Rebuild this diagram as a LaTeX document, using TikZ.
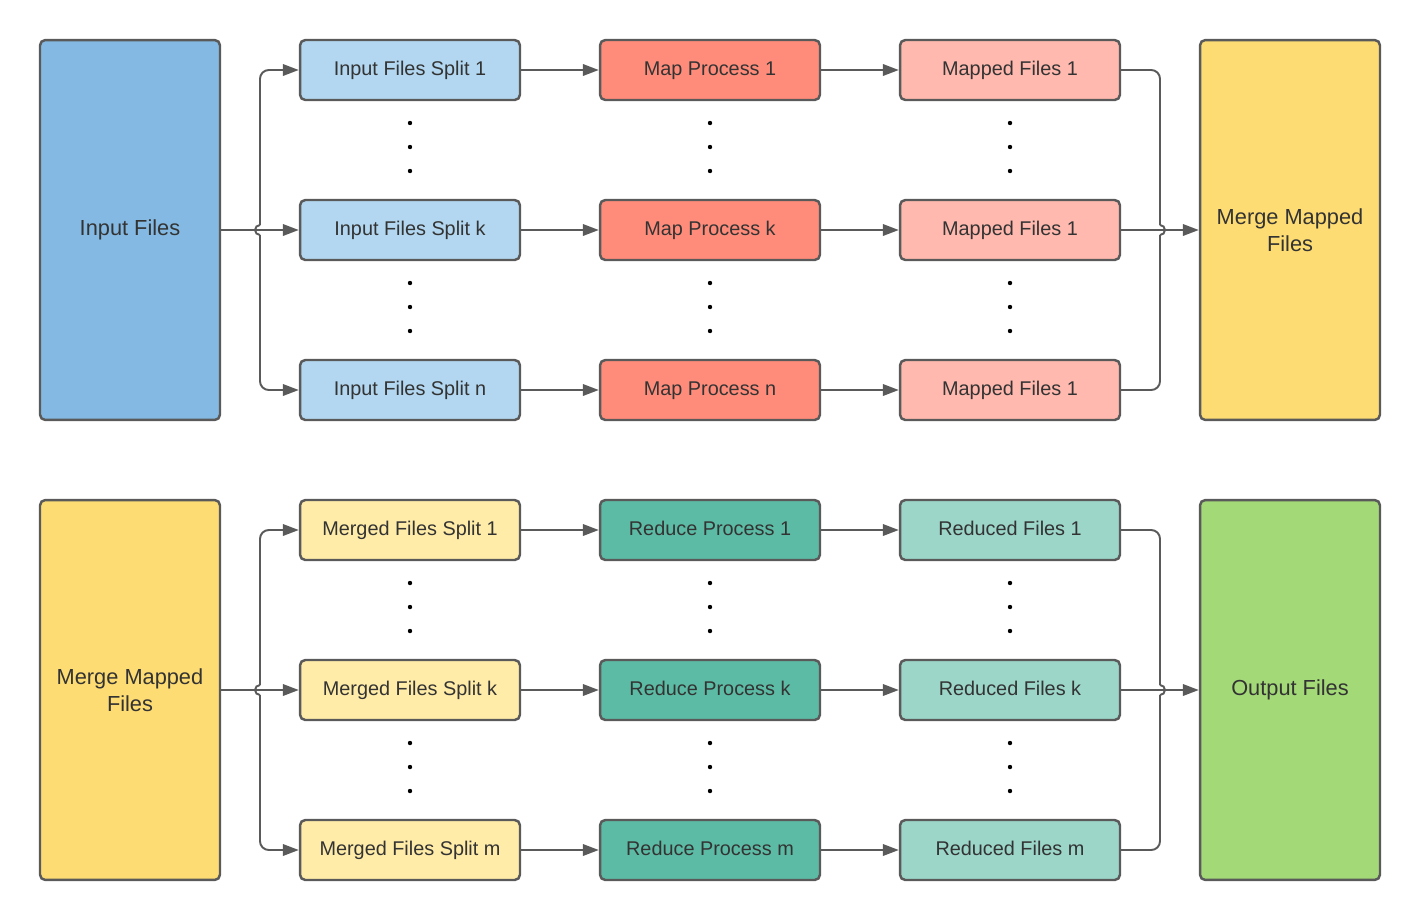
\documentclass[tikz,border=0pt]{standalone}
\usepackage{fontspec}
\setmainfont{Liberation Sans}
\usetikzlibrary{arrows.meta,calc}

\definecolor{edge}{HTML}{5A5A5A}
\definecolor{txt}{HTML}{333333}
\definecolor{inblue}{HTML}{83B9E3}
\definecolor{splitblue}{HTML}{B3D7F0}
\definecolor{mapred}{HTML}{FF8C7B}
\definecolor{mappedpink}{HTML}{FFB9AF}
\definecolor{mergeyel}{HTML}{FDDC73}
\definecolor{splityel}{HTML}{FFECA8}
\definecolor{redteal}{HTML}{5CBBA4}
\definecolor{fileteal}{HTML}{9BD6C9}
\definecolor{outgreen}{HTML}{A3D977}

\begin{document}
\begin{tikzpicture}[x=0.02cm, y=-0.02cm]
\tikzstyle{bigbox}=[draw=edge, line width=1.4pt, rounded corners=3pt,
  minimum width=3.6cm, minimum height=7.6cm, text=txt, align=center,
  font=\fontsize{12.4}{15.3}\selectfont]
\tikzstyle{smallbox}=[draw=edge, line width=1.4pt, rounded corners=3pt,
  minimum width=4.4cm, minimum height=1.2cm, text=txt,
  text height=1.5ex, text depth=0.4ex,
  font=\fontsize{11.3}{13}\selectfont]
\tikzstyle{conn}=[draw=edge, line width=1.1pt,
  -{Triangle[length=9pt,width=6.5pt]}]
\tikzstyle{hop}=[draw=edge, line width=1.1pt]
\useasboundingbox (0,0) rectangle (1420,920);

% map phase
\node[bigbox, fill=inblue] (in) at (130,230) {Input Files};
\node[smallbox, fill=splitblue] (s1) at (410,70) {Input Files Split 1};
\node[smallbox, fill=splitblue] (sk) at (410,230) {Input Files Split k};
\node[smallbox, fill=splitblue] (sn) at (410,390) {Input Files Split n};
\node[smallbox, fill=mapred] (p1) at (710,70) {Map Process 1};
\node[smallbox, fill=mapred] (pk) at (710,230) {Map Process k};
\node[smallbox, fill=mapred] (pn) at (710,390) {Map Process n};
\node[smallbox, fill=mappedpink] (m1) at (1010,70) {Mapped Files 1};
\node[smallbox, fill=mappedpink] (mk) at (1010,230) {Mapped Files 1};
\node[smallbox, fill=mappedpink] (mn) at (1010,390) {Mapped Files 1};
\node[bigbox, fill=mergeyel] (mg) at (1290,230) {Merge Mapped\\Files};

% reduce phase
\node[bigbox, fill=mergeyel] (rin) at (130,690) {Merge Mapped\\Files};
\node[smallbox, fill=splityel] (r1) at (410,530) {Merged Files Split 1};
\node[smallbox, fill=splityel] (rk) at (410,690) {Merged Files Split k};
\node[smallbox, fill=splityel] (rm) at (410,850) {Merged Files Split m};
\node[smallbox, fill=redteal] (q1) at (710,530) {Reduce Process 1};
\node[smallbox, fill=redteal] (qk) at (710,690) {Reduce Process k};
\node[smallbox, fill=redteal] (qm) at (710,850) {Reduce Process m};
\node[smallbox, fill=fileteal] (f1) at (1010,530) {Reduced Files 1};
\node[smallbox, fill=fileteal] (fk) at (1010,690) {Reduced Files k};
\node[smallbox, fill=fileteal] (fm) at (1010,850) {Reduced Files m};
\node[bigbox, fill=outgreen] (out) at (1290,690) {Output Files};

% fan out / fan in points
\coordinate (jl) at (260,230);
\coordinate (jr) at (1160,230);
\coordinate (jl2) at (260,690);
\coordinate (jr2) at (1160,690);

% straight arrows
\draw[conn] (in) -- (sk);
\draw[conn] (s1) -- (p1);
\draw[conn] (sk) -- (pk);
\draw[conn] (sn) -- (pn);
\draw[conn] (p1) -- (m1);
\draw[conn] (pk) -- (mk);
\draw[conn] (pn) -- (mn);
\draw[conn] (mk) -- (mg);
\draw[conn] (rin) -- (rk);
\draw[conn] (r1) -- (q1);
\draw[conn] (rk) -- (qk);
\draw[conn] (rm) -- (qm);
\draw[conn] (q1) -- (f1);
\draw[conn] (qk) -- (fk);
\draw[conn] (qm) -- (fm);
\draw[conn] (fk) -- (out);

% branches with line hops
\draw[conn, rounded corners=5pt] ($(jl)+(0,-5)$) |- (s1);
\draw[conn, rounded corners=5pt] ($(jl)+(0,5)$) |- (sn);
\draw[hop] ($(jl)+(0,-5)$) arc (270:90:5);
\draw[hop, rounded corners=5pt] (m1) -| ($(jr)+(0,-5)$);
\draw[hop, rounded corners=5pt] (mn) -| ($(jr)+(0,5)$);
\draw[hop] ($(jr)+(0,-5)$) arc (-90:90:5);

\draw[conn, rounded corners=5pt] ($(jl2)+(0,-5)$) |- (r1);
\draw[conn, rounded corners=5pt] ($(jl2)+(0,5)$) |- (rm);
\draw[hop] ($(jl2)+(0,-5)$) arc (270:90:5);
\draw[hop, rounded corners=5pt] (f1) -| ($(jr2)+(0,-5)$);
\draw[hop, rounded corners=5pt] (fm) -| ($(jr2)+(0,5)$);
\draw[hop] ($(jr2)+(0,-5)$) arc (-90:90:5);

% dots
\foreach \x in {410,710,1010}
  \foreach \y in {123,147,171,283,307,331,583,607,631,743,767,791}
    \fill[black] (\x,\y) circle (2.2);
\end{tikzpicture}
\end{document}
